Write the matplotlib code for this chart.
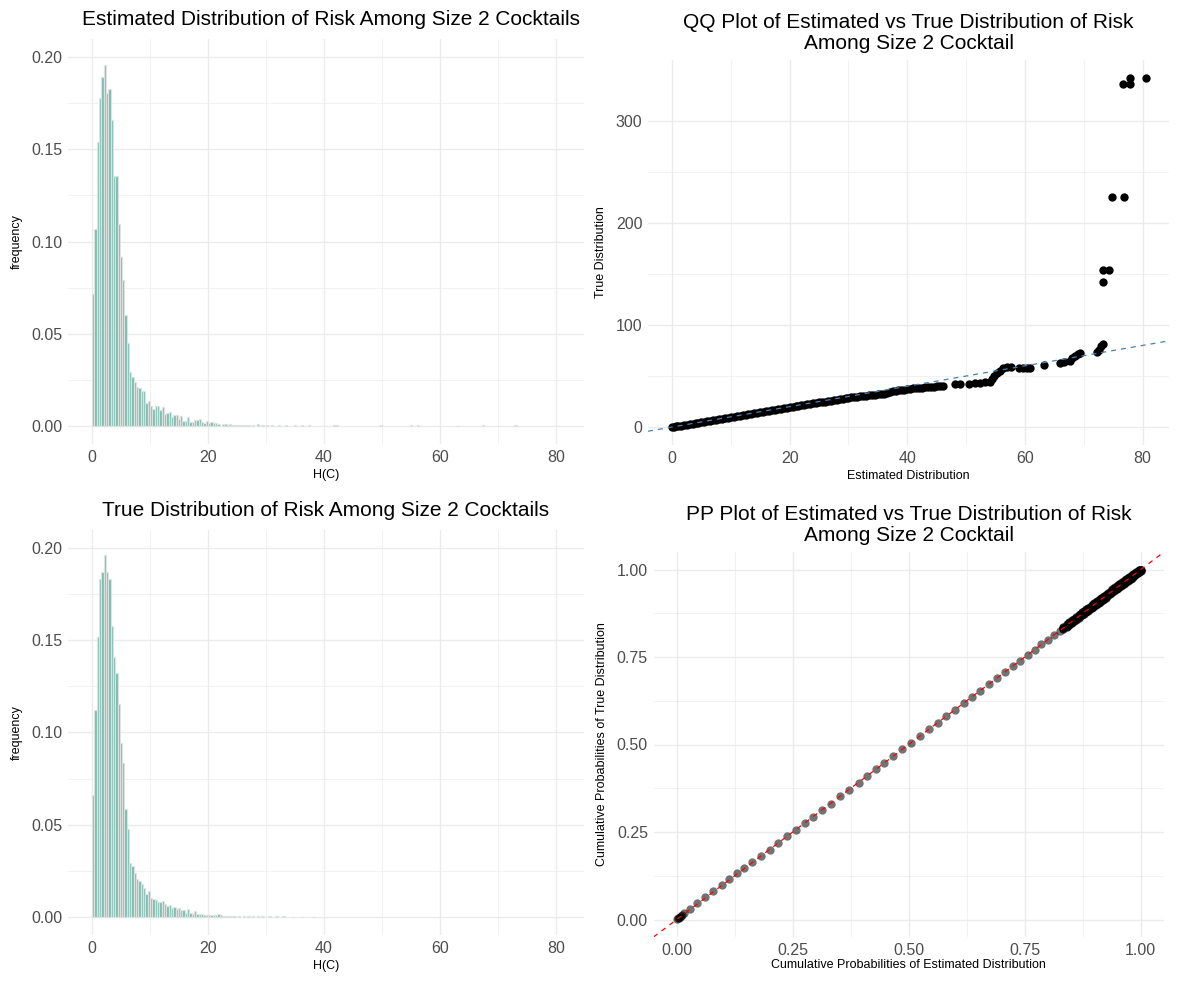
import matplotlib
matplotlib.use("Agg")
import matplotlib.pyplot as plt
import numpy as np

plt.rcParams['font.family'] = ['Liberation Sans', 'DejaVu Sans']

# histogram bin heights (bin width 0.4, first bin centred at 0.2)
est_density = [0.0714, 0.1068, 0.154, 0.178, 0.189, 0.1957, 0.1807, 0.1825, 0.1659, 0.1355,
               0.1355, 0.1095, 0.0918, 0.0791, 0.0602, 0.0448, 0.0294, 0.0267, 0.0240, 0.0213,
               0.0204, 0.0191, 0.0191, 0.0126, 0.0137, 0.0108, 0.0094, 0.0108, 0.0108, 0.0087,
               0.0101, 0.0065, 0.0072, 0.0078, 0.0050, 0.0059, 0.0059, 0.0038, 0.0054, 0.0029,
               0.0029, 0.0050, 0.0023, 0.0023, 0.0031, 0.0031, 0.0040, 0.0023, 0.0018, 0.0029,
               0.0018, 0.0023, 0.0018, 0.0014, 0.0011]
est_tail_x = [22.6, 23.0, 23.4, 23.8, 24.2, 24.6, 25.0, 25.4, 25.8, 26.2, 26.6, 27.0, 27.8, 28.6,
              29.4, 30.2, 31.0, 32.2, 33.4, 35.0, 36.2, 37.4, 41.8, 42.2, 49.8, 55.0, 56.2, 63.0,
              67.4, 73.0]
est_tail_y = [0.0009, 0.0011, 0.0007, 0.0009, 0.0005, 0.0007, 0.0005, 0.0007, 0.0004, 0.0005,
              0.0004, 0.0005, 0.0004, 0.0009, 0.0003, 0.0004, 0.0003, 0.0003, 0.0004, 0.0006,
              0.0006, 0.0003, 0.0004, 0.0003, 0.0003, 0.0005, 0.0005, 0.0002, 0.0003, 0.0003]

true_density = [0.0663, 0.112, 0.1518, 0.183, 0.187, 0.1962, 0.187, 0.183, 0.158, 0.141,
                0.132, 0.1156, 0.0942, 0.0833, 0.0585, 0.0476, 0.029, 0.0277, 0.0236, 0.0205,
                0.0196, 0.0181, 0.0159, 0.0123, 0.0138, 0.0105, 0.0096, 0.0091, 0.0083, 0.0083,
                0.0087, 0.0072, 0.0060, 0.0065, 0.0051, 0.0054, 0.0042, 0.0051, 0.0036, 0.0036,
                0.0024, 0.0042, 0.0024, 0.0018, 0.0032, 0.0018, 0.0018, 0.0014, 0.0012, 0.0012,
                0.0012, 0.0012, 0.0009, 0.0009, 0.0018, 0.0009]
true_tail_x = [22.6, 23.0, 23.4, 23.8, 24.2, 24.6, 25.4, 26.2, 27.0, 27.8, 28.6, 29.4, 30.6,
               31.8, 33.0, 34.6, 36.2, 38.2]
true_tail_y = [0.0007, 0.0005, 0.0007, 0.0005, 0.0004, 0.0005, 0.0004, 0.0004, 0.0003, 0.0004,
               0.0003, 0.0003, 0.0003, 0.0003, 0.0003, 0.0002, 0.0002, 0.0002]

# QQ plot: sorted estimated vs sorted true risk
qq_est = [0, 0.3, 0.6, 1, 1.5, 2, 2.5, 3, 3.5, 4, 4.5, 5, 5.5, 6, 6.5, 7, 7.5, 8, 8.5, 9, 9.5,
          10, 10.5, 11, 11.5, 12, 12.5, 13, 13.5, 14, 14.5, 15, 15.5, 16, 16.5, 17, 17.5, 18,
          18.5, 19, 19.5, 20, 20.5, 21, 21.5, 22, 22.5, 23, 23.5, 24, 24.5, 25, 25.5, 26, 26.5,
          27, 27.5, 28, 28.5, 29, 29.5, 30, 30.5, 31, 31.5, 32, 32.5, 33, 33.5, 34, 34.5, 35,
          35.5, 36, 36.5, 37, 37.5, 38, 38.5, 39, 39.5, 40, 40.5, 41, 41.5, 42, 42.5, 43, 43.5,
          44, 44.5, 45, 45.5, 46,
          48.2, 49, 50.5, 51.5, 52.3, 53.2, 54, 54.4, 54.8, 55.2, 55.7, 56.3, 57, 57.6,
          59, 59.6, 60.4, 60.8, 63.3, 66, 66.7, 67.7, 68, 68.5, 69, 69.3, 72.2, 72.6, 73, 73.2,
          73.2, 73.2, 74.3, 74.8, 76.8, 76.7, 77.8, 77.8, 80.6]
qq_true = [0, 0.3, 0.6, 0.9, 1.4, 1.9, 2.4, 2.9, 3.4, 3.9, 4.4, 4.9, 5.3, 5.8, 6.3, 6.8, 7.3,
           7.8, 8.3, 8.8, 9.3, 9.8, 10.2, 10.7, 11.2, 11.7, 12.2, 12.7, 13.2, 13.7, 14.1, 14.6,
           15.1, 15.6, 16.1, 16.6, 17.0, 17.5, 18.0, 18.5, 19.0, 19.5, 19.9, 20.4, 20.8, 21.3,
           21.8, 22.3, 22.7, 23.2, 23.6, 24.1, 24.5, 25.0, 25.4, 25.9, 26.2, 26.6, 27.1, 27.6,
           28.2, 28.7, 29.1, 29.5, 29.9, 30.2, 30.5, 30.8, 31.1, 31.4, 31.7, 32.0, 32.3, 32.6,
           33.6, 34.5, 35.0, 35.5, 35.9, 36.3, 36.8, 37.2, 37.5, 37.8, 38.0, 38.3, 38.5, 38.8,
           39.1, 39.4, 39.7, 40.0, 40.3, 40.6,
           42, 42, 42.3, 43.6, 43.6, 43.8, 44, 47, 50, 53, 55, 57.5, 58.4,
           58.4, 57.7, 57.7, 58, 58, 60.7, 63.2, 63.5, 65, 68, 70, 72, 72.5, 74, 76, 79, 81,
           142.6, 153.5, 153.5, 225.8, 225.8, 336, 336, 342.6, 342.6]

# PP plot: cumulative probabilities (sparse lower part, dense band above ~0.83)
pp_est = [0.001, 0.003, 0.005, 0.007, 0.009, 0.012, 0.016, 0.029, 0.043, 0.061, 0.079, 0.097,
          0.113, 0.129, 0.146, 0.163, 0.182, 0.201, 0.218, 0.238, 0.257, 0.276, 0.294, 0.314,
          0.332, 0.352, 0.372, 0.392, 0.411, 0.429, 0.447, 0.466, 0.486, 0.505, 0.524, 0.543,
          0.562, 0.581, 0.600, 0.618, 0.636, 0.654, 0.672, 0.690, 0.707, 0.724, 0.740, 0.756,
          0.771, 0.786, 0.800, 0.813, 0.825]
pp_true = [0.001, 0.003, 0.005, 0.007, 0.010, 0.013, 0.018, 0.031, 0.046, 0.064, 0.081, 0.099,
           0.116, 0.132, 0.146, 0.164, 0.181, 0.199, 0.219, 0.238, 0.257, 0.276, 0.293, 0.314,
           0.331, 0.352, 0.371, 0.390, 0.410, 0.429, 0.448, 0.466, 0.486, 0.505, 0.524, 0.543,
           0.562, 0.581, 0.600, 0.618, 0.636, 0.654, 0.672, 0.690, 0.707, 0.724, 0.740, 0.756,
           0.771, 0.786, 0.800, 0.813, 0.825]
pp_band_est = [0.833, 0.840, 0.846, 0.851, 0.856, 0.861, 0.866, 0.870, 0.874, 0.878, 0.882,
               0.886, 0.890, 0.894, 0.897, 0.900, 0.903, 0.906, 0.909, 0.912, 0.915, 0.918,
               0.921, 0.924, 0.927, 0.930, 0.933, 0.936, 0.939, 0.942, 0.945, 0.948, 0.951,
               0.954, 0.957, 0.960, 0.963, 0.966, 0.969, 0.972, 0.975, 0.978, 0.981, 0.984,
               0.987, 0.990, 0.993, 0.996, 0.998, 1.0]
pp_band_lo = [0.830, 0.836, 0.842, 0.847, 0.852, 0.857, 0.862, 0.866, 0.870, 0.874, 0.878,
              0.882, 0.886, 0.890, 0.893, 0.896, 0.899, 0.902, 0.905, 0.908, 0.911, 0.914,
              0.917, 0.920, 0.923, 0.926, 0.929, 0.932, 0.935, 0.938, 0.941, 0.944, 0.947,
              0.950, 0.953, 0.956, 0.959, 0.962, 0.965, 0.968, 0.971, 0.974, 0.977, 0.980,
              0.983, 0.986, 0.989, 0.992, 0.995, 0.997]
pp_band_hi = [0.836, 0.844, 0.850, 0.855, 0.860, 0.865, 0.870, 0.874, 0.878, 0.882, 0.886,
              0.890, 0.894, 0.898, 0.901, 0.904, 0.907, 0.910, 0.913, 0.916, 0.919, 0.922,
              0.925, 0.928, 0.931, 0.934, 0.937, 0.940, 0.943, 0.946, 0.949, 0.952, 0.955,
              0.958, 0.961, 0.964, 0.967, 0.970, 0.973, 0.976, 0.979, 0.982, 0.985, 0.988,
              0.991, 0.994, 0.996, 0.998, 0.999, 1.0]

W, H = 1177, 989
fig = plt.figure(figsize=(W / 100, H / 100), dpi=100)


def panel(left, right, top, bottom):
    return fig.add_axes([left / W, 1 - bottom / H, (right - left) / W, (bottom - top) / H])


def style(ax, xmaj, xmin, ymaj, ymin):
    ax.set_facecolor('white')
    for s in ax.spines.values():
        s.set_visible(False)
    ax.set_xticks(xmaj)
    ax.set_xticks(xmin, minor=True)
    ax.set_yticks(ymaj)
    ax.set_yticks(ymin, minor=True)
    ax.grid(which='major', color='#EBEBEB', linewidth=1.0)
    ax.grid(which='minor', color='#EBEBEB', linewidth=0.5)
    ax.set_axisbelow(True)
    ax.tick_params(which='both', length=0, labelsize=11.5, labelcolor='#4D4D4D', pad=4)


def hist_panel(ax, heights, tx, ty, title, tx_pos):
    centers = 0.2 + 0.4 * np.arange(len(heights))
    ax.bar(centers, heights, width=0.4, color='#69b3a2', alpha=0.9,
           edgecolor='#dfe5e3', linewidth=0.9)
    ax.bar(tx, ty, width=0.4, color='#69b3a2', alpha=0.9,
           edgecolor='#dfe5e3', linewidth=0.9)
    style(ax, [0, 20, 40, 60, 80], [10, 30, 50, 70],
          [0, 0.05, 0.10, 0.15, 0.20], [0.025, 0.075, 0.125, 0.175])
    ax.set_yticklabels(['0.00', '0.05', '0.10', '0.15', '0.20'])
    ax.set_xlim(-4.14, 84.83)
    ax.set_ylim(-0.0098, 0.2098)
    ax.set_xlabel('H(C)', fontsize=9, labelpad=3)
    ax.set_ylabel('frequency', fontsize=9, labelpad=6)
    ax.set_title(title, fontsize=15, pad=10, x=tx_pos)


ax1 = panel(68, 584, 39, 444)
hist_panel(ax1, est_density, est_tail_x, est_tail_y,
           'Estimated Distribution of Risk Among Size 2 Cocktails', 0.51)

ax3 = panel(68, 584, 530, 935)
hist_panel(ax3, true_density, true_tail_x, true_tail_y,
           'True Distribution of Risk Among Size 2 Cocktails', 0.5)

# QQ plot
ax2 = panel(648, 1169, 60, 445)
style(ax2, [0, 20, 40, 60, 80], [10, 30, 50, 70], [0, 100, 200, 300], [50, 150, 250])
ax2.set_xlim(-4.08, 84.5)
ax2.set_ylim(-17.6, 359.8)
ax2.axline((0, 0), slope=1, color='#4682B4', linewidth=0.9, linestyle=(0, (4, 4)), zorder=3)
ax2.scatter(qq_est, qq_true, s=36, color='black', linewidths=0, zorder=2)
ax2.set_xlabel('Estimated Distribution', fontsize=9, labelpad=3)
ax2.set_ylabel('True Distribution', fontsize=9, labelpad=6)
ax2.set_title('QQ Plot of Estimated vs True Distribution of Risk\nAmong Size 2 Cocktail',
              fontsize=15, pad=8, linespacing=1.15)

# PP plot
ax4 = panel(653.5, 1164, 552, 937)
ticks = [0, 0.25, 0.5, 0.75, 1.0]
mins = [0.125, 0.375, 0.625, 0.875]
style(ax4, ticks, mins, ticks, mins)
ax4.set_xticklabels(['0.00', '0.25', '0.50', '0.75', '1.00'])
ax4.set_yticklabels(['0.00', '0.25', '0.50', '0.75', '1.00'])
ax4.set_xlim(-0.05, 1.05)
ax4.set_ylim(-0.05, 1.05)
ax4.scatter(pp_est, pp_true, s=36, color='black', alpha=0.55, linewidths=0, zorder=2)
ax4.scatter(pp_band_est, pp_band_est, s=36, color='black', alpha=0.8, linewidths=0, zorder=2)
ax4.scatter(pp_band_est, pp_band_lo, s=36, color='black', alpha=0.8, linewidths=0, zorder=2)
ax4.scatter(pp_band_est, pp_band_hi, s=36, color='black', alpha=0.8, linewidths=0, zorder=2)
ax4.axline((0, 0), slope=1, color='red', linewidth=0.9, linestyle=(0, (4, 4)), zorder=3)
ax4.set_xlabel('Cumulative Probabilities of Estimated Distribution', fontsize=9, labelpad=1)
ax4.set_ylabel('Cumulative Probabilities of True Distribution', fontsize=9, labelpad=6)
ax4.set_title('PP Plot of Estimated vs True Distribution of Risk\nAmong Size 2 Cocktail',
              fontsize=15, pad=8, linespacing=1.15)

fig.savefig('out.png', dpi=100, facecolor='white')
